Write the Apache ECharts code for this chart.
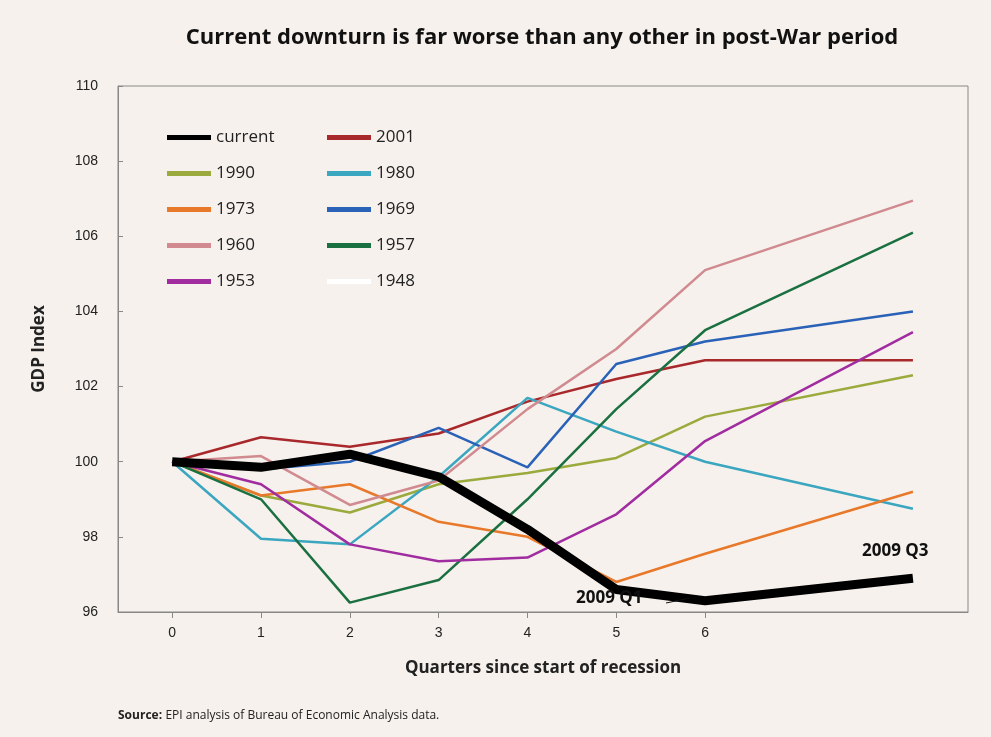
<!DOCTYPE html>
<html><head><meta charset="utf-8">
<script src="https://cdn.jsdelivr.net/npm/echarts@6/dist/echarts.min.js"></script>
<style>html,body{margin:0;background:#f6f1ec}#c{width:991px;height:737px}</style>
</head><body><div id="c"></div>
<script>
// x positions of quarters (last point sits further right in the original)
var quarters = [0, 1, 2, 3, 4, 5, 6, 8.34];
var tickLabels = [0, 1, 2, 3, 4, 5, 6];
var names = ['current', '1990', '1973', '1960', '1953', '2001', '1980', '1969', '1957', '1948'];
var current = [100, 99.85, 100.2, 99.6, 98.2, 96.6, 96.3, 96.9];
var y2001 = [100, 100.65, 100.4, 100.75, 101.6, 102.2, 102.7, 102.7];
var y1990 = [100, 99.1, 98.65, 99.4, 99.7, 100.1, 101.2, 102.3];
var y1980 = [100, 97.95, 97.8, 99.6, 101.7, 100.8, 100.0, 98.75];
var y1973 = [100, 99.1, 99.4, 98.4, 98.0, 96.8, 97.55, 99.2];
var y1969 = [100, 99.8, 100.0, 100.9, 99.85, 102.6, 103.2, 104.0];
var y1960 = [100, 100.15, 98.85, 99.5, 101.4, 103.0, 105.1, 106.95];
var y1957 = [100, 99.0, 96.25, 96.85, 99.0, 101.4, 103.5, 106.1];
var y1953 = [100, 99.4, 97.8, 97.35, 97.45, 98.6, 100.55, 103.45];
var y1948 = [];

var colors = {
  'current': '#000000', '2001': '#a8282c', '1990': '#9aaa3c', '1980': '#3aa6c0',
  '1973': '#e8782a', '1969': '#2a62b8', '1960': '#d08a90', '1957': '#1a7040',
  '1953': '#a02ca0', '1948': '#ffffff'
};
var values = {
  'current': current, '2001': y2001, '1990': y1990, '1980': y1980, '1973': y1973,
  '1969': y1969, '1960': y1960, '1957': y1957, '1953': y1953, '1948': y1948
};
var pair = function (ys) {
  var out = [];
  for (var i = 0; i < ys.length; i++) out.push([quarters[i], ys[i]]);
  return out;
};
var series = [];
var order = ['1948', '2001', '1990', '1980', '1973', '1969', '1960', '1957', '1953', 'current'];
for (var i = 0; i < order.length; i++) {
  var n = order[i];
  series.push({
    name: n, type: 'line', data: pair(values[n]), symbol: 'none',
    lineStyle: { color: colors[n], width: n == 'current' ? 9 : 2.5 },
    itemStyle: { color: colors[n] }, z: n == 'current' ? 5 : 2
  });
}
var legendBase = {
  orient: 'vertical', top: 124, itemGap: 19, itemWidth: 44, itemHeight: 5, icon: 'rect',
  textStyle: { fontSize: 17, color: '#222', fontFamily: 'Open Sans' }
};
var mkLegend = function (left, list) {
  var o = Object.assign({}, legendBase);
  o.left = left;
  o.data = list.map(function (n) {
    return n == 'current' ? { name: n, itemStyle: { color: '#000' } } : n;
  });
  return o;
};
var chart = echarts.init(document.getElementById('c'));
chart.setOption({
  backgroundColor: '#f6f1ec',
  animation: false,
  title: {
    text: 'Current downturn is far worse than any other in post-War period',
    left: 537, top: 22, textAlign: 'center',
    textStyle: { fontSize: 22, fontWeight: 'bold', color: '#111', fontFamily: 'Open Sans' }
  },
  legend: [mkLegend(162, names.slice(0, 5)), mkLegend(322, names.slice(5))],
  grid: { left: 118, right: 23, top: 86, bottom: 125, show: true, borderColor: '#888', borderWidth: 1 },
  xAxis: {
    type: 'value', min: -0.61, max: 8.96,
    name: 'Quarters since start of recession', nameLocation: 'middle', nameGap: 48,
    nameTextStyle: { fontSize: 17, color: '#222', fontFamily: 'Open Sans', fontWeight: 'bold' },
    axisLine: { onZero: false, lineStyle: { color: '#888' } },
    axisTick: { customValues: tickLabels, length: 6, lineStyle: { color: '#888' } },
    axisLabel: { customValues: tickLabels, fontSize: 14, color: '#222', margin: 14 },
    splitLine: { show: false }
  },
  yAxis: {
    type: 'value', min: 96, max: 110, interval: 2,
    name: 'GDP Index', nameLocation: 'middle', nameGap: 70, nameRotate: 90,
    nameTextStyle: { fontSize: 17, color: '#222', fontFamily: 'Open Sans', fontWeight: 'bold' },
    axisLine: { show: true, onZero: false, lineStyle: { color: '#888' } },
    axisTick: { show: true, inside: true, lineStyle: { color: '#888' } },
    axisLabel: { fontSize: 14, color: '#222', margin: 20 },
    splitLine: { show: false }
  },
  graphic: [
    { type: 'text', left: 576, top: 590, z: 10, style: { text: '2009 Q1', font: 'bold 17px "Open Sans"', fill: '#111' } },
    { type: 'line', z: 10, shape: { x1: 666, y1: 603, x2: 690, y2: 598 }, style: { stroke: '#111', lineWidth: 1 } },
    { type: 'text', left: 862, top: 543, style: { text: '2009 Q3', font: 'bold 17px "Open Sans"', fill: '#111' } },
    { type: 'text', left: 118, top: 710, style: { rich: { b: { font: 'bold 12px "Open Sans"', fill: '#222' }, n: { font: '12px "Open Sans"', fill: '#222' } }, text: '{b|Source:} {n|EPI analysis of Bureau of Economic Analysis data.}' } }
  ],
  series: series
});
</script></body></html>
